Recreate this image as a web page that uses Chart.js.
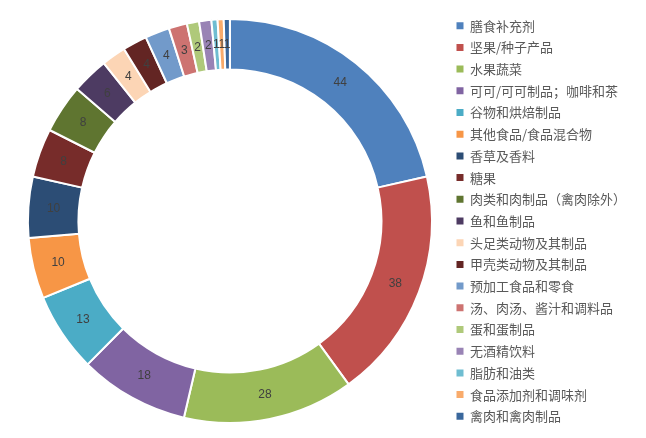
<!DOCTYPE html>
<html>
<head>
<meta charset="utf-8">
<script src="https://cdn.jsdelivr.net/npm/chart.js@4/dist/chart.umd.min.js"></script>
<style>
html,body{margin:0;padding:0;background:#fff;}
#wrap{width:646px;height:438px;}
</style>
</head>
<body>
<div id="wrap"><canvas id="c" width="646" height="438"></canvas></div>
<script>
const categories = ["膳食补充剂","坚果/种子产品","水果蔬菜","可可/可可制品；咖啡和茶","谷物和烘焙制品","其他食品/食品混合物","香草及香料","糖果","肉类和肉制品（禽肉除外）","鱼和鱼制品","头足类动物及其制品","甲壳类动物及其制品","预加工食品和零食","汤、肉汤、酱汁和调料品","蛋和蛋制品","无酒精饮料","脂肪和油类","食品添加剂和调味剂","禽肉和禽肉制品"];
const values = [44,38,28,18,13,10,10,8,8,6,4,4,4,3,2,2,1,1,1];
const colors = ["#4F81BD","#C0504D","#9BBB59","#8064A2","#4BACC6","#F79646","#2C4D75","#772C2A","#5F7530","#4D3B62","#FCD5B5","#632523","#729ACA","#CD7371","#AFC97A","#9983B5","#6FBDD1","#F9AB6B","#3A679C"];

const valueLabels = {
  id: 'valueLabels',
  afterDatasetsDraw(chart) {
    const ctx = chart.ctx;
    const meta = chart.getDatasetMeta(0);
    ctx.save();
    ctx.font = '12px "Liberation Sans", Arial, sans-serif';
    ctx.fillStyle = '#404040';
    ctx.textAlign = 'center';
    ctx.textBaseline = 'middle';
    meta.data.forEach((arc, i) => {
      const p = arc.tooltipPosition();
      ctx.fillText(String(chart.data.datasets[0].data[i]), p.x, p.y);
    });
    ctx.restore();
  }
};

new Chart(document.getElementById('c'), {
  type: 'doughnut',
  data: {
    labels: categories,
    datasets: [{
      data: values,
      backgroundColor: colors,
      borderColor: '#ffffff',
      borderWidth: 2,
      radius: 202,
      cutout: '75%'
    }]
  },
  options: {
    responsive: false,
    animation: false,
    devicePixelRatio: 1,
    layout: { padding: { left: 12, right: 10, top: 4, bottom: 0 } },
    plugins: {
      tooltip: { enabled: false },
      legend: {
        position: 'right',
        align: 'center',
        labels: {
          boxWidth: 7,
          boxHeight: 7,
          padding: 8.7,
          color: '#595959',
          font: { family: '"Noto Sans CJK SC", sans-serif', size: 13 },
          generateLabels(chart) {
            const items = Chart.overrides.doughnut.plugins.legend.labels.generateLabels(chart);
            items.forEach(it => { it.lineWidth = 0; it.strokeStyle = 'rgba(0,0,0,0)'; });
            return items;
          }
        }
      }
    }
  },
  plugins: [valueLabels]
});
</script>
</body>
</html>
